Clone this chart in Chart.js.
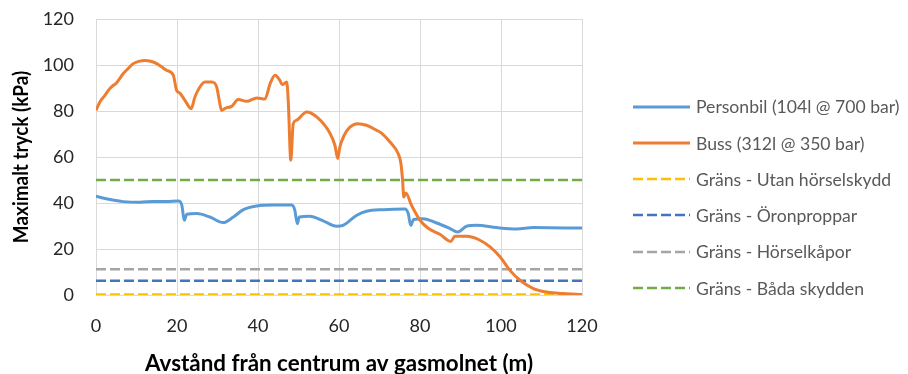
<!DOCTYPE html>
<html>
<head>
<meta charset="utf-8">
<script src="https://cdn.jsdelivr.net/npm/chart.js@4.4.1/dist/chart.umd.min.js"></script>
<style>
  html, body { margin: 0; padding: 0; background: #ffffff; }
  #wrap { position: relative; width: 908px; height: 374px; overflow: hidden; }
  #legend { position: absolute; left: 633px; top: 0; font-family: Lato, "Open Sans", sans-serif; font-size: 17.6px; color: #595959; }
  .row { position: absolute; left: 0; height: 22px; display: flex; align-items: center; white-space: nowrap; }
  .row svg { display: block; margin-right: 6px; }
</style>
</head>
<body>
<div id="wrap">
  <canvas id="c" width="908" height="374"></canvas>
  <div id="legend"></div>
</div>
<script>
// ---- data ----
const xTicks = [0, 20, 40, 60, 80, 100, 120];
const yTicks = [0, 20, 40, 60, 80, 100, 120];

const personbilData = [
  [0,42.9],[3.5,41.5],[6.7,40.6],[10.9,40.3],[14.1,40.7],[17.4,40.7],[20.3,40.9],[21.2,39],
  [21.8,32.5],[22.4,35.1],[24.9,35.4],[28.1,33.9],[31.4,31.5],[33.9,33.9],[36.4,37.1],[39.7,38.7],
  [43.8,39.1],[48.3,39.1],[49.1,36.8],[49.7,31],[50.2,33.9],[52.8,34.2],[56.1,32.2],[59.4,29.9],
  [61,30.3],[64.4,34.7],[66.8,36.4],[70.9,37.1],[76.3,37.4],[77.1,35.4],[77.7,30.3],[78.4,32.8],
  [80.8,33.2],[84.1,31.3],[87.4,28.9],[89.3,27.4],[91.5,29.9],[94,30.3],[98.9,29.3],[103.9,28.7],
  [108,29.3],[120,29.1]
];

const bussData = [
  [0,80.3],[1,84],[2.2,86.8],[3.3,89.5],[4.3,91.2],[4.9,91.9],[5.8,94],[6.7,96.2],[8,98.6],
  [9.2,100.6],[10.6,101.6],[12.1,102],[13.5,101.6],[15,100.6],[16.2,99.2],[17.4,97.7],[19.1,95.5],
  [19.9,89],[20.7,87.8],[22,84.5],[23.5,81],[24.4,86],[25.5,90],[26.9,92.6],[28.6,92.6],[29.8,90.4],
  [30.4,85],[31,80.3],[32.3,81.5],[33.5,82],[35.1,85],[37.2,84.2],[39.7,85.7],[41.7,85.2],[43,91.9],
  [44.2,95.5],[45.4,93.3],[46,91.5],[47.1,92.6],[47.5,83.2],[48.1,58.6],[48.7,74.5],[49.5,76],
  [52,79.6],[54.5,77.4],[57.8,70.2],[59,65],[59.7,59.3],[60.2,64.3],[61.3,69.5],[62.7,73],[64.6,74.5],
  [66.8,73.8],[69.3,71.6],[70.5,70.4],[72.6,66.5],[74.6,61.5],[75.3,57.1],[75.7,49.9],[76,42.6],
  [76.5,44.3],[77.9,39],[80,32.5],[82.1,28.9],[84.9,26.4],[87.6,23.3],[88.6,25.5],[91.5,25.5],
  [94.8,23.8],[97.3,20.9],[99.8,16.5],[102.2,10.7],[104.7,6.4],[108,2.8],[111.3,1.3],[115.4,0.6],[120,0.2]
];

const limitNames = ["Gräns - Utan hörselskydd", "Gräns - Öronproppar", "Gräns - Hörselkåpor", "Gräns - Båda skydden"];
const limitValues = [0.2, 6.2, 11.2, 50];
const limitRange = [0, 120];

const seriesNames = ["Personbil (104l @ 700 bar)", "Buss (312l @ 350 bar)"];
const seriesColors = ["#5B9BD5", "#ED7D31"];
const limitColors = ["#FFC000", "#4472C4", "#A5A5A5", "#70AD47"];

const xTitle = 'Avstånd från centrum av gasmolnet (m)';
const yTitle = 'Maximalt tryck (kPa)';

// ---- build datasets ----
const toPts = arr => arr.map(p => ({x: p[0], y: p[1]}));
const datasets = [
  { label: seriesNames[0], data: toPts(personbilData), borderColor: seriesColors[0], borderWidth: 3,
    pointRadius: 0, cubicInterpolationMode: 'monotone', fill: false, order: 1 },
  { label: seriesNames[1], data: toPts(bussData), borderColor: seriesColors[1], borderWidth: 3,
    pointRadius: 0, cubicInterpolationMode: 'monotone', fill: false, order: 0 }
];
limitValues.forEach((v, i) => {
  datasets.push({ label: limitNames[i], data: limitRange.map(x => ({x, y: v})), borderColor: limitColors[i],
    borderWidth: 2.5, borderDash: [10, 4], pointRadius: 0, fill: false, order: 2 });
});

const FONT = "Lato, 'Open Sans', sans-serif";

// y-axis title drawn as canvas text, slightly condensed along its length like the reference
const yTitlePlugin = {
  id: 'yTitle',
  afterDraw(chart) {
    const { ctx, chartArea } = chart;
    ctx.save();
    ctx.translate(21, (chartArea.top + chartArea.bottom) / 2);
    ctx.rotate(-Math.PI / 2);
    ctx.scale(0.9, 1);
    ctx.font = "bold 21px " + FONT;
    ctx.fillStyle = '#000000';
    ctx.textAlign = 'center';
    ctx.textBaseline = 'middle';
    ctx.fillText(yTitle, 0, 0);
    ctx.restore();
  }
};

new Chart(document.getElementById('c'), {
  type: 'line',
  data: { datasets },
  plugins: [yTitlePlugin],
  options: {
    responsive: false,
    animation: false,
    events: [],
    layout: { padding: { top: 19, right: 326, left: 0, bottom: 0 } },
    plugins: { legend: { display: false }, tooltip: { enabled: false } },
    scales: {
      x: {
        type: 'linear', min: 0, max: 120,
        afterBuildTicks: s => { s.ticks = xTicks.map(v => ({value: v})); },
        afterFit: s => { s.height = 79; s.paddingLeft = 0; s.paddingRight = 0; },
        grid: { color: '#d9d9d9', lineWidth: 1, drawTicks: false },
        border: { color: '#d9d9d9' },
        ticks: { padding: 20, color: '#262626', font: { family: FONT, size: 18 } },
        title: { display: true, text: xTitle, color: '#000000',
                 font: { family: FONT, size: 22.4, weight: 'bold' }, padding: { top: -3, bottom: -3 } }
      },
      y: {
        type: 'linear', min: 0, max: 120,
        afterBuildTicks: s => { s.ticks = yTicks.map(v => ({value: v})); },
        afterFit: s => { s.width = 96; s.paddingTop = 0; s.paddingBottom = 0; },
        grid: { color: '#d9d9d9', lineWidth: 1, drawTicks: false },
        border: { color: '#d9d9d9' },
        ticks: { padding: 22, color: '#262626', font: { family: FONT, size: 18 } },
        title: { display: false }
      }
    }
  }
});

// ---- legend (real text) ----
const legendRows = [
  { name: seriesNames[0], color: seriesColors[0], dash: null },
  { name: seriesNames[1], color: seriesColors[1], dash: null },
  ...limitNames.map((n, i) => ({ name: n, color: limitColors[i], dash: '10 4' }))
];
const rowCenters = [106.7, 143.3, 179, 215, 251.7, 288.3];
const leg = document.getElementById('legend');
legendRows.forEach((r, i) => {
  const row = document.createElement('div');
  row.className = 'row';
  row.style.top = (rowCenters[i] - 11) + 'px';
  const dashAttr = r.dash ? ` stroke-dasharray="${r.dash}"` : '';
  row.innerHTML = `<svg width="57" height="6"><line x1="0" y1="3" x2="57" y2="3" stroke="${r.color}" stroke-width="${r.dash ? 2.5 : 3}"${dashAttr}/></svg><span>${r.name}</span>`;
  leg.appendChild(row);
});
</script>
</body>
</html>
